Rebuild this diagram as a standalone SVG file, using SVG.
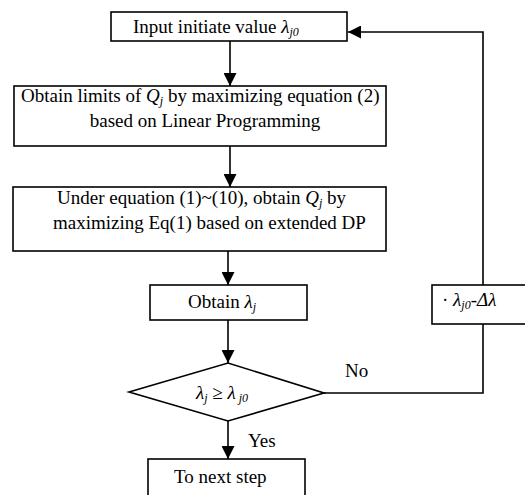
<svg xmlns="http://www.w3.org/2000/svg" width="525" height="495" viewBox="0 0 525 495">
<defs>
<style>
.box{fill:#fff;stroke:#000;stroke-width:1.6}
.ln{fill:none;stroke:#000;stroke-width:1.6}
text{font-family:'Liberation Serif','Times New Roman',serif;font-size:19px;fill:#000}
.i{font-style:italic}
.s{font-size:12px;font-style:italic}
</style>
<marker id="ah" viewBox="0 0 12 12" refX="12" refY="6" markerWidth="13" markerHeight="13" markerUnits="userSpaceOnUse" orient="auto">
<path d="M0,0 L12,6 L0,12 Z" fill="#000"/>
</marker>
</defs>
<rect width="525" height="495" fill="#fff"/>
<g id="connectors">
<line class="ln" x1="230" y1="41" x2="230" y2="86" marker-end="url(#ah)"/>
<line class="ln" x1="230" y1="146" x2="230" y2="187" marker-end="url(#ah)"/>
<line class="ln" x1="228" y1="251" x2="228" y2="285" marker-end="url(#ah)"/>
<line class="ln" x1="228" y1="320" x2="228" y2="363" marker-end="url(#ah)"/>
<line class="ln" x1="228" y1="421" x2="228" y2="459" marker-end="url(#ah)"/>
<polyline class="ln" points="324,393 483,393 483,324"/>
<polyline class="ln" points="483,285 483,32 348,32" marker-end="url(#ah)"/>
<text font-family="Liberation Serif, serif" x="345" y="377">No</text>
<text font-family="Liberation Serif, serif" x="248" y="447">Yes</text>
</g>
<g id="n1">
<rect class="box" x="111" y="12" width="236" height="29"/>
<text font-family="Liberation Serif, serif" x="133" y="33">Input initiate value <tspan class="i">λ</tspan><tspan class="s" dy="3">j0</tspan></text>
</g>
<g id="n2">
<rect class="box" x="14" y="86" width="372" height="60"/>
<text font-family="Liberation Serif, serif" x="21" y="102">Obtain limits of <tspan class="i">Q</tspan><tspan class="s" dy="3">j</tspan><tspan dy="-3"> by maximizing equation (2)</tspan></text>
<text font-family="Liberation Serif, serif" x="205" y="127" text-anchor="middle">based on Linear Programming</text>
</g>
<g id="n3">
<rect class="box" x="13" y="187" width="373" height="64"/>
<text font-family="Liberation Serif, serif" x="57" y="204">Under equation (1)~(10), obtain <tspan class="i">Q</tspan><tspan class="s" dy="3">j</tspan><tspan dy="-3">  by</tspan></text>
<text font-family="Liberation Serif, serif" x="53" y="229">maximizing Eq(1) based on extended DP</text>
</g>
<g id="n4">
<rect class="box" x="150" y="285" width="157" height="35"/>
<text font-family="Liberation Serif, serif" x="188" y="308">Obtain <tspan class="i">λ</tspan><tspan class="s" dy="3">j</tspan></text>
</g>
<g id="n5">
<polygon class="box" points="129,392 228,363 324,393 228,421"/>
<text font-family="Liberation Serif, serif" x="196" y="399"><tspan class="i">λ</tspan><tspan class="s" dy="3">j</tspan><tspan dy="-3"> ≥ </tspan><tspan class="i">λ</tspan><tspan class="s" dy="3"> j0</tspan></text>
</g>
<g id="n6">
<rect class="box" x="432" y="285" width="100" height="39"/>
<text font-family="Liberation Serif, serif" x="442" y="306">· <tspan class="i">λ</tspan><tspan class="s" dy="3">j0</tspan><tspan class="i" dy="-3">-Δλ</tspan></text>
</g>
<g id="n7">
<rect class="box" x="148" y="459" width="157" height="45"/>
<text font-family="Liberation Serif, serif" x="174" y="483">To next step</text>
</g>
</svg>
